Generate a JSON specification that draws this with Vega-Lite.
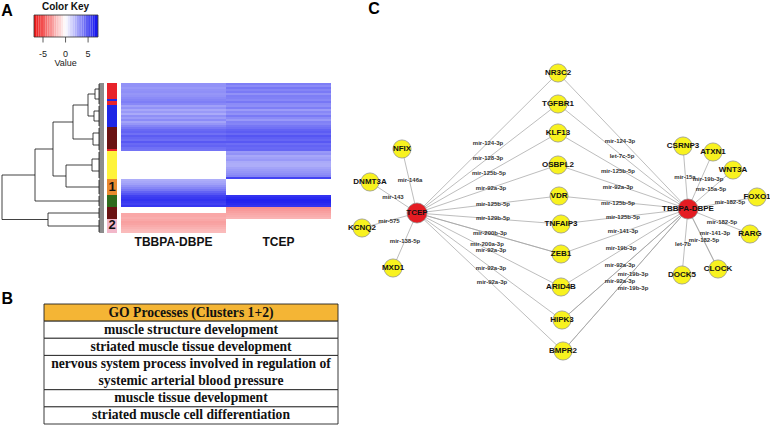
{
"$schema": "https://vega.github.io/schema/vega-lite/v6.json",
"autosize": {"type": "fit", "contains": "padding"},
"width": 770, "height": 425,
"padding": 0,
"background": "white",
"config": {"view": {"stroke": null}, "font": "Liberation Sans"},
"datasets": {
"rows": [
{"r0":0,"r1":1,"cluster":"red","TBBPA-DBPE":3.2,"TCEP":3.8,"lab":""},
{"r0":1,"r1":2,"cluster":"red","TBBPA-DBPE":3.2,"TCEP":3.4,"lab":""},
{"r0":2,"r1":3,"cluster":"red","TBBPA-DBPE":3.0,"TCEP":4.0,"lab":""},
{"r0":3,"r1":4,"cluster":"red","TBBPA-DBPE":3.2,"TCEP":3.6,"lab":""},
{"r0":4,"r1":5,"cluster":"red","TBBPA-DBPE":3.3,"TCEP":3.9,"lab":""},
{"r0":5,"r1":6,"cluster":"red","TBBPA-DBPE":3.1,"TCEP":3.2,"lab":""},
{"r0":6,"r1":7,"cluster":"red","TBBPA-DBPE":3.2,"TCEP":3.8,"lab":""},
{"r0":7,"r1":8,"cluster":"red","TBBPA-DBPE":3.4,"TCEP":3.7,"lab":""},
{"r0":8,"r1":9,"cluster":"blue","TBBPA-DBPE":3.6,"TCEP":3.5,"lab":""},
{"r0":9,"r1":10,"cluster":"red","TBBPA-DBPE":3.8,"TCEP":4.0,"lab":""},
{"r0":10,"r1":11,"cluster":"red","TBBPA-DBPE":3.5,"TCEP":3.4,"lab":""},
{"r0":11,"r1":12,"cluster":"blue","TBBPA-DBPE":2.8,"TCEP":3.3,"lab":""},
{"r0":12,"r1":13,"cluster":"blue","TBBPA-DBPE":3.2,"TCEP":3.8,"lab":""},
{"r0":13,"r1":14,"cluster":"blue","TBBPA-DBPE":2.6,"TCEP":2.9,"lab":""},
{"r0":14,"r1":15,"cluster":"blue","TBBPA-DBPE":3.0,"TCEP":3.5,"lab":""},
{"r0":15,"r1":16,"cluster":"blue","TBBPA-DBPE":2.5,"TCEP":3.2,"lab":""},
{"r0":16,"r1":17,"cluster":"blue","TBBPA-DBPE":3.3,"TCEP":3.9,"lab":""},
{"r0":17,"r1":18,"cluster":"blue","TBBPA-DBPE":2.9,"TCEP":3.4,"lab":""},
{"r0":18,"r1":19,"cluster":"blue","TBBPA-DBPE":3.4,"TCEP":3.0,"lab":""},
{"r0":19,"r1":20,"cluster":"blue","TBBPA-DBPE":2.7,"TCEP":3.7,"lab":""},
{"r0":20,"r1":21,"cluster":"blue","TBBPA-DBPE":3.1,"TCEP":3.6,"lab":""},
{"r0":21,"r1":22,"cluster":"blue","TBBPA-DBPE":3.6,"TCEP":4.0,"lab":""},
{"r0":22,"r1":23,"cluster":"maroon","TBBPA-DBPE":4.0,"TCEP":4.2,"lab":""},
{"r0":23,"r1":24,"cluster":"maroon","TBBPA-DBPE":4.4,"TCEP":4.6,"lab":""},
{"r0":24,"r1":25,"cluster":"maroon","TBBPA-DBPE":4.6,"TCEP":4.8,"lab":""},
{"r0":25,"r1":26,"cluster":"maroon","TBBPA-DBPE":4.2,"TCEP":4.4,"lab":""},
{"r0":26,"r1":27,"cluster":"maroon","TBBPA-DBPE":4.8,"TCEP":5.0,"lab":""},
{"r0":27,"r1":28,"cluster":"maroon","TBBPA-DBPE":4.5,"TCEP":4.7,"lab":""},
{"r0":28,"r1":29,"cluster":"maroon","TBBPA-DBPE":4.3,"TCEP":4.5,"lab":""},
{"r0":29,"r1":30,"cluster":"maroon","TBBPA-DBPE":4.9,"TCEP":4.9,"lab":""},
{"r0":30,"r1":31,"cluster":"maroon","TBBPA-DBPE":4.4,"TCEP":4.3,"lab":""},
{"r0":31,"r1":32,"cluster":"maroon","TBBPA-DBPE":4.6,"TCEP":4.6,"lab":""},
{"r0":32,"r1":33,"cluster":"maroon","TBBPA-DBPE":4.2,"TCEP":4.4,"lab":""},
{"r0":33,"r1":34,"cluster":"red","TBBPA-DBPE":4.1,"TCEP":4.5,"lab":""},
{"r0":34,"r1":35,"cluster":"yellow","TBBPA-DBPE":0,"TCEP":3.0,"lab":""},
{"r0":35,"r1":36,"cluster":"yellow","TBBPA-DBPE":0,"TCEP":3.2,"lab":""},
{"r0":36,"r1":37,"cluster":"yellow","TBBPA-DBPE":0,"TCEP":2.6,"lab":""},
{"r0":37,"r1":38,"cluster":"yellow","TBBPA-DBPE":0,"TCEP":2.8,"lab":""},
{"r0":38,"r1":39,"cluster":"yellow","TBBPA-DBPE":0,"TCEP":3.0,"lab":""},
{"r0":39,"r1":40,"cluster":"yellow","TBBPA-DBPE":0,"TCEP":2.5,"lab":""},
{"r0":40,"r1":41,"cluster":"yellow","TBBPA-DBPE":0,"TCEP":2.4,"lab":""},
{"r0":41,"r1":42,"cluster":"yellow","TBBPA-DBPE":0,"TCEP":2.4,"lab":""},
{"r0":42,"r1":43,"cluster":"yellow","TBBPA-DBPE":0,"TCEP":2.7,"lab":""},
{"r0":43,"r1":44,"cluster":"yellow","TBBPA-DBPE":0,"TCEP":2.9,"lab":""},
{"r0":44,"r1":45,"cluster":"yellow","TBBPA-DBPE":0,"TCEP":3.1,"lab":""},
{"r0":45,"r1":46,"cluster":"yellow","TBBPA-DBPE":0,"TCEP":3.3,"lab":""},
{"r0":46,"r1":47,"cluster":"yellow","TBBPA-DBPE":0,"TCEP":3.6,"lab":""},
{"r0":47,"r1":48,"cluster":"yellow","TBBPA-DBPE":0,"TCEP":5.5,"lab":""},
{"r0":48,"r1":49,"cluster":"orange","TBBPA-DBPE":2.4,"TCEP":0,"lab":""},
{"r0":49,"r1":50,"cluster":"orange","TBBPA-DBPE":2.6,"TCEP":0,"lab":""},
{"r0":50,"r1":51,"cluster":"orange","TBBPA-DBPE":2.8,"TCEP":0,"lab":""},
{"r0":51,"r1":52,"cluster":"orange","TBBPA-DBPE":3.2,"TCEP":0,"lab":"1"},
{"r0":52,"r1":53,"cluster":"orange","TBBPA-DBPE":3.6,"TCEP":0,"lab":""},
{"r0":53,"r1":54,"cluster":"orange","TBBPA-DBPE":4.0,"TCEP":0,"lab":""},
{"r0":54,"r1":55,"cluster":"orange","TBBPA-DBPE":4.6,"TCEP":0,"lab":""},
{"r0":55,"r1":56,"cluster":"orange","TBBPA-DBPE":5.0,"TCEP":0,"lab":""},
{"r0":56,"r1":57,"cluster":"green","TBBPA-DBPE":5.6,"TCEP":6.0,"lab":""},
{"r0":57,"r1":58,"cluster":"green","TBBPA-DBPE":5.8,"TCEP":6.3,"lab":""},
{"r0":58,"r1":59,"cluster":"green","TBBPA-DBPE":6.0,"TCEP":6.5,"lab":""},
{"r0":59,"r1":60,"cluster":"green","TBBPA-DBPE":5.8,"TCEP":6.4,"lab":""},
{"r0":60,"r1":61,"cluster":"green","TBBPA-DBPE":5.6,"TCEP":6.2,"lab":""},
{"r0":61,"r1":62,"cluster":"green","TBBPA-DBPE":5.9,"TCEP":6.0,"lab":""},
{"r0":62,"r1":63,"cluster":"maroon","TBBPA-DBPE":0,"TCEP":-3.2,"lab":""},
{"r0":63,"r1":64,"cluster":"maroon","TBBPA-DBPE":0,"TCEP":-3.0,"lab":""},
{"r0":64,"r1":65,"cluster":"maroon","TBBPA-DBPE":0,"TCEP":-2.8,"lab":""},
{"r0":65,"r1":66,"cluster":"maroon","TBBPA-DBPE":-2.6,"TCEP":-2.6,"lab":""},
{"r0":66,"r1":67,"cluster":"maroon","TBBPA-DBPE":-2.6,"TCEP":-2.4,"lab":""},
{"r0":67,"r1":68,"cluster":"maroon","TBBPA-DBPE":-2.4,"TCEP":-2.2,"lab":""},
{"r0":68,"r1":69,"cluster":"pink","TBBPA-DBPE":-2.6,"TCEP":0,"lab":""},
{"r0":69,"r1":70,"cluster":"pink","TBBPA-DBPE":-2.8,"TCEP":0,"lab":""},
{"r0":70,"r1":71,"cluster":"pink","TBBPA-DBPE":-2.7,"TCEP":0,"lab":"2"},
{"r0":71,"r1":72,"cluster":"pink","TBBPA-DBPE":-2.5,"TCEP":0,"lab":""},
{"r0":72,"r1":73,"cluster":"pink","TBBPA-DBPE":-2.3,"TCEP":0,"lab":""},
{"r0":73,"r1":74,"cluster":"pink","TBBPA-DBPE":-2.1,"TCEP":0,"lab":""},
{"r0":74,"r1":75,"cluster":"pink","TBBPA-DBPE":-2.0,"TCEP":0,"lab":""}
],
"keybins": [
{"lo":-7,"hi":-6.5,"mid":-6.75},{"lo":-6.5,"hi":-6,"mid":-6.25},{"lo":-6,"hi":-5.5,"mid":-5.75},{"lo":-5.5,"hi":-5,"mid":-5.25},
{"lo":-5,"hi":-4.5,"mid":-4.75},{"lo":-4.5,"hi":-4,"mid":-4.25},{"lo":-4,"hi":-3.5,"mid":-3.75},{"lo":-3.5,"hi":-3,"mid":-3.25},
{"lo":-3,"hi":-2.5,"mid":-2.75},{"lo":-2.5,"hi":-2,"mid":-2.25},{"lo":-2,"hi":-1.5,"mid":-1.75},{"lo":-1.5,"hi":-1,"mid":-1.25},
{"lo":-1,"hi":-0.5,"mid":-0.75},{"lo":-0.5,"hi":0,"mid":-0.25},{"lo":0,"hi":0.5,"mid":0.25},{"lo":0.5,"hi":1,"mid":0.75},
{"lo":1,"hi":1.5,"mid":1.25},{"lo":1.5,"hi":2,"mid":1.75},{"lo":2,"hi":2.5,"mid":2.25},{"lo":2.5,"hi":3,"mid":2.75},
{"lo":3,"hi":3.5,"mid":3.25},{"lo":3.5,"hi":4,"mid":3.75},{"lo":4,"hi":4.5,"mid":4.25},{"lo":4.5,"hi":5,"mid":4.75},
{"lo":5,"hi":5.5,"mid":5.25},{"lo":5.5,"hi":6,"mid":5.75},{"lo":6,"hi":6.5,"mid":6.25},{"lo":6.5,"hi":7,"mid":6.75},
{"lo":7,"hi":7.2,"mid":7.1}
],
"keyticks": [{"v":-5,"t":"-5"},{"v":0,"t":"0"},{"v":5,"t":"5"}],
"colnames": [{"col":0.5,"name":"TBBPA-DBPE"},{"col":1.5,"name":"TCEP"}],
"dendro": [
{"h1":5,"r1":0.5,"h2":5,"r2":10.5},
{"h1":5,"r1":11.5,"h2":5,"r2":21.5},
{"h1":5,"r1":22.5,"h2":5,"r2":33.5},
{"h1":5,"r1":34.5,"h2":5,"r2":47.5},
{"h1":5,"r1":48.5,"h2":5,"r2":55.5},
{"h1":5,"r1":56.5,"h2":5,"r2":61.5},
{"h1":5,"r1":62.5,"h2":5,"r2":67.5},
{"h1":5,"r1":68.5,"h2":5,"r2":74.5},
{"h1":5,"r1":3,"h2":9,"r2":3},
{"h1":5,"r1":8,"h2":9,"r2":8},
{"h1":9,"r1":3,"h2":9,"r2":8},
{"h1":5,"r1":14,"h2":10,"r2":14},
{"h1":5,"r1":19,"h2":10,"r2":19},
{"h1":10,"r1":14,"h2":10,"r2":19},
{"h1":5,"r1":25,"h2":11,"r2":25},
{"h1":5,"r1":31,"h2":11,"r2":31},
{"h1":11,"r1":25,"h2":11,"r2":31},
{"h1":5,"r1":38,"h2":12,"r2":38},
{"h1":5,"r1":44,"h2":12,"r2":44},
{"h1":12,"r1":38,"h2":12,"r2":44},
{"h1":9,"r1":5.5,"h2":16,"r2":5.5},
{"h1":10,"r1":16.5,"h2":16,"r2":16.5},
{"h1":16,"r1":5.5,"h2":16,"r2":16.5},
{"h1":16,"r1":11,"h2":31,"r2":11},
{"h1":11,"r1":28,"h2":31,"r2":28},
{"h1":31,"r1":11,"h2":31,"r2":28},
{"h1":12,"r1":41,"h2":38,"r2":41},
{"h1":5,"r1":52,"h2":38,"r2":52},
{"h1":38,"r1":41,"h2":38,"r2":52},
{"h1":31,"r1":19.5,"h2":51,"r2":19.5},
{"h1":38,"r1":46.5,"h2":51,"r2":46.5},
{"h1":51,"r1":19.5,"h2":51,"r2":46.5},
{"h1":51,"r1":33,"h2":69,"r2":33},
{"h1":5,"r1":59,"h2":69,"r2":59},
{"h1":69,"r1":33,"h2":69,"r2":59},
{"h1":5,"r1":65,"h2":56,"r2":65},
{"h1":5,"r1":71.5,"h2":56,"r2":71.5},
{"h1":56,"r1":65,"h2":56,"r2":71.5},
{"h1":69,"r1":46,"h2":102,"r2":46},
{"h1":56,"r1":68.25,"h2":102,"r2":68.25},
{"h1":102,"r1":46,"h2":102,"r2":68.25}
],
"cells": [
{"kind":"header","top":0,"bottom":1},
{"kind":"row","top":1,"bottom":2},
{"kind":"row","top":2,"bottom":3},
{"kind":"row","top":3,"bottom":5},
{"kind":"row","top":5,"bottom":6},
{"kind":"row","top":6,"bottom":7}
],
"lines": [
{"text":"GO Processes (Clusters 1+2)","center":0.5},
{"text":"muscle structure development","center":1.5},
{"text":"striated muscle tissue development","center":2.5},
{"text":"nervous system process involved in regulation of","center":3.5},
{"text":"systemic arterial blood pressure","center":4.5},
{"text":"muscle tissue development","center":5.5},
{"text":"striated muscle cell differentiation","center":6.5}
],
"nodes": [
{"id":"TCEP","type":"chemical","x":417,"y":212},
{"id":"TBBPA-DBPE","type":"chemical","x":688,"y":208},
{"id":"NFIX","type":"gene","x":402,"y":148},
{"id":"DNMT3A","type":"gene","x":370,"y":181},
{"id":"KCNQ2","type":"gene","x":362,"y":227},
{"id":"MXD1","type":"gene","x":393,"y":267},
{"id":"NR3C2","type":"gene","x":558,"y":72},
{"id":"TGFBR1","type":"gene","x":558,"y":103},
{"id":"KLF13","type":"gene","x":558,"y":132},
{"id":"OSBPL2","type":"gene","x":558,"y":164},
{"id":"VDR","type":"gene","x":559,"y":195},
{"id":"TNFAIP3","type":"gene","x":561,"y":223},
{"id":"ZEB1","type":"gene","x":561,"y":253},
{"id":"ARID4B","type":"gene","x":561,"y":286},
{"id":"HIPK3","type":"gene","x":562,"y":319},
{"id":"BMPR2","type":"gene","x":563,"y":350},
{"id":"CSRNP3","type":"gene","x":683,"y":145},
{"id":"ATXN1","type":"gene","x":713,"y":151},
{"id":"WNT3A","type":"gene","x":733,"y":169},
{"id":"FOXO1","type":"gene","x":757,"y":196},
{"id":"RARG","type":"gene","x":750,"y":233},
{"id":"CLOCK","type":"gene","x":718,"y":268},
{"id":"DOCK5","type":"gene","x":682,"y":274}
],
"edges": [
{"source":"TCEP","target":"NFIX","mir":"mir-146a","lx":410,"ly":179},
{"source":"TCEP","target":"DNMT3A","mir":"mir-143","lx":393,"ly":196},
{"source":"TCEP","target":"KCNQ2","mir":"mir-575","lx":389,"ly":220},
{"source":"TCEP","target":"MXD1","mir":"mir-138-5p","lx":405,"ly":240},
{"source":"TCEP","target":"NR3C2","mir":"mir-124-3p","lx":488,"ly":142},
{"source":"TCEP","target":"TGFBR1","mir":"mir-128-3p","lx":488,"ly":157},
{"source":"TCEP","target":"KLF13","mir":"mir-125b-5p","lx":489,"ly":172},
{"source":"TCEP","target":"OSBPL2","mir":"mir-92a-3p","lx":491,"ly":187},
{"source":"TCEP","target":"VDR","mir":"mir-125b-5p","lx":493,"ly":203},
{"source":"TCEP","target":"TNFAIP3","mir":"mir-129b-5p","lx":493,"ly":217},
{"source":"TCEP","target":"ZEB1","mir":"mir-200b-3p","lx":490,"ly":232},
{"source":"TCEP","target":"ZEB1","mir":"mir-200a-3p","lx":487,"ly":243},
{"source":"TCEP","target":"ARID4B","mir":"mir-92a-3p","lx":491,"ly":249},
{"source":"TCEP","target":"HIPK3","mir":"mir-92a-3p","lx":491,"ly":267},
{"source":"TCEP","target":"BMPR2","mir":"mir-92a-3p","lx":492,"ly":281},
{"source":"TBBPA-DBPE","target":"NR3C2","mir":"mir-124-3p","lx":620,"ly":140},
{"source":"TBBPA-DBPE","target":"TGFBR1","mir":"let-7c-5p","lx":622,"ly":155},
{"source":"TBBPA-DBPE","target":"KLF13","mir":"mir-125b-5p","lx":618,"ly":170},
{"source":"TBBPA-DBPE","target":"OSBPL2","mir":"mir-92a-3p","lx":618,"ly":186},
{"source":"TBBPA-DBPE","target":"VDR","mir":"mir-125b-5p","lx":618,"ly":202},
{"source":"TBBPA-DBPE","target":"TNFAIP3","mir":"mir-125b-5p","lx":623,"ly":216},
{"source":"TBBPA-DBPE","target":"ZEB1","mir":"mir-141-3p","lx":623,"ly":230},
{"source":"TBBPA-DBPE","target":"ARID4B","mir":"mir-19b-3p","lx":621,"ly":247},
{"source":"TBBPA-DBPE","target":"HIPK3","mir":"mir-92a-3p","lx":620,"ly":264},
{"source":"TBBPA-DBPE","target":"HIPK3","mir":"mir-19b-3p","lx":633,"ly":273},
{"source":"TBBPA-DBPE","target":"BMPR2","mir":"mir-92a-3p","lx":620,"ly":280},
{"source":"TBBPA-DBPE","target":"BMPR2","mir":"mir-19b-3p","lx":633,"ly":287},
{"source":"TBBPA-DBPE","target":"CSRNP3","mir":"mir-15a","lx":685,"ly":176},
{"source":"TBBPA-DBPE","target":"ATXN1","mir":"mir-19b-3p","lx":708,"ly":178},
{"source":"TBBPA-DBPE","target":"WNT3A","mir":"mir-15a-5p","lx":711,"ly":188},
{"source":"TBBPA-DBPE","target":"FOXO1","mir":"mir-182-5p","lx":730,"ly":201},
{"source":"TBBPA-DBPE","target":"RARG","mir":"mir-182-5p","lx":722,"ly":221},
{"source":"TBBPA-DBPE","target":"CLOCK","mir":"mir-141-3p","lx":715,"ly":232},
{"source":"TBBPA-DBPE","target":"CLOCK","mir":"mir-182-5p","lx":704,"ly":239},
{"source":"TBBPA-DBPE","target":"DOCK5","mir":"let-7b","lx":683,"ly":243}
],
"blank": [{"one":1}]
},
"layer": [
{"data": {"name": "keybins"}, "mark": {"type": "rect"},
"encoding": {
"x": {"field": "lo", "type": "quantitative", "scale": {"domain": [-7, 7.2], "range": [34, 98], "nice": false, "zero": false}, "axis": null},
"x2": {"field": "hi"},
"y": {"datum": 0, "type": "quantitative", "scale": {"domain": [0, 1], "range": [14, 36], "nice": false, "zero": false}, "axis": null},
"y2": {"datum": 1},
"color": {"field": "mid", "type": "quantitative", "scale": {"domain": [-7, 0, 7], "range": ["#ee1111", "#ffffff", "#1111ee"], "interpolate": "rgb"}, "legend": null}
}},
{"data": {"name": "blank"}, "mark": {"type": "rect", "fillOpacity": 0, "stroke": "#333", "strokeWidth": 0.8},
"encoding": {
"x": {"datum": -7, "type": "quantitative", "scale": {"domain": [-7, 7.2], "range": [34, 98], "nice": false, "zero": false}, "axis": null},
"x2": {"datum": 7.2},
"y": {"datum": 0, "type": "quantitative", "scale": {"domain": [0, 1], "range": [14, 36], "nice": false, "zero": false}, "axis": null},
"y2": {"datum": 1}
}},
{"data": {"name": "keyticks"}, "mark": {"type": "rule", "color": "#333", "strokeWidth": 0.8},
"encoding": {
"x": {"field": "v", "type": "quantitative", "scale": {"domain": [-7, 7.2], "range": [34, 98], "nice": false, "zero": false}, "axis": null},
"y": {"datum": 1, "type": "quantitative", "scale": {"domain": [0, 1], "range": [14, 36], "nice": false, "zero": false}, "axis": null},
"y2": {"datum": 1.25}
}},
{"data": {"name": "keyticks"}, "mark": {"type": "text", "fontSize": 9, "color": "#222"},
"encoding": {
"x": {"field": "v", "type": "quantitative", "scale": {"domain": [-7, 7.2], "range": [34, 98], "nice": false, "zero": false}, "axis": null},
"y": {"datum": 1.75, "type": "quantitative", "scale": {"domain": [0, 1], "range": [14, 36], "nice": false, "zero": false}, "axis": null},
"text": {"field": "t"}
}},
{"data": {"name": "blank"}, "mark": {"type": "text", "fontSize": 9, "color": "#222"},
"encoding": {
"x": {"datum": 0, "type": "quantitative", "scale": {"domain": [-7, 7.2], "range": [34, 98], "nice": false, "zero": false}, "axis": null},
"y": {"datum": 2.2, "type": "quantitative", "scale": {"domain": [0, 1], "range": [14, 36], "nice": false, "zero": false}, "axis": null},
"text": {"value": "Value"}
}},
{"data": {"name": "blank"}, "mark": {"type": "text", "fontSize": 10, "fontWeight": "bold", "color": "#111"},
"encoding": {
"x": {"datum": 0, "type": "quantitative", "scale": {"domain": [-7, 7.2], "range": [34, 98], "nice": false, "zero": false}, "axis": null},
"y": {"datum": -0.36, "type": "quantitative", "scale": {"domain": [0, 1], "range": [14, 36], "nice": false, "zero": false}, "axis": null},
"text": {"value": "Color Key"}
}},
{"data": {"name": "blank"}, "mark": {"type": "text", "fontSize": 16, "fontWeight": "bold", "color": "#000"},
"encoding": {
"x": {"datum": -13, "type": "quantitative", "scale": {"domain": [-7, 7.2], "range": [34, 98], "nice": false, "zero": false}, "axis": null},
"y": {"datum": -0.18, "type": "quantitative", "scale": {"domain": [0, 1], "range": [14, 36], "nice": false, "zero": false}, "axis": null},
"text": {"value": "A"}
}},
{"data": {"name": "dendro"}, "mark": {"type": "rule", "color": "#111", "strokeWidth": 0.8},
"encoding": {
"x": {"field": "h1", "type": "quantitative", "scale": {"domain": [0, 102], "range": [104, 2], "nice": false, "zero": false}, "axis": null},
"x2": {"field": "h2"},
"y": {"field": "r1", "type": "quantitative", "scale": {"domain": [0, 75], "range": [82, 232], "nice": false, "zero": false}, "axis": null},
"y2": {"field": "r2"}
}},
{"data": {"name": "rows"}, "mark": {"type": "rule", "color": "#000", "strokeWidth": 0.9},
"encoding": {
"x": {"datum": 0, "type": "quantitative", "scale": {"domain": [0, 102], "range": [104, 2], "nice": false, "zero": false}, "axis": null},
"x2": {"datum": 5},
"y": {"field": "r1", "type": "quantitative", "scale": {"domain": [0, 75], "range": [81, 231], "nice": false, "zero": false}, "axis": null}
}},
{"data": {"name": "rows"}, "mark": {"type": "rect"},
"encoding": {
"x": {"datum": 0, "type": "quantitative", "scale": {"domain": [0, 1], "range": [107, 117], "nice": false, "zero": false}, "axis": null},
"x2": {"datum": 1},
"y": {"field": "r0", "type": "quantitative", "scale": {"domain": [0, 75], "range": [82, 232], "nice": false, "zero": false}, "axis": null},
"y2": {"field": "r1"},
"fill": {"field": "cluster", "type": "nominal", "scale": {"domain": ["red", "blue", "maroon", "yellow", "orange", "green", "pink"], "range": ["#e8232b", "#1e26e6", "#6a1212", "#fff33a", "#e98a2f", "#2f6a1c", "#f2b7c9"]}, "legend": null}
}},
{"data": {"name": "rows"}, "transform": [{"filter": "datum.lab != ''"}],
"mark": {"type": "text", "fontSize": 13, "fontWeight": "bold", "color": "#111"},
"encoding": {
"x": {"datum": 0.5, "type": "quantitative", "scale": {"domain": [0, 1], "range": [107, 117], "nice": false, "zero": false}, "axis": null},
"y": {"field": "r1", "type": "quantitative", "scale": {"domain": [0, 75], "range": [82, 232], "nice": false, "zero": false}, "axis": null},
"text": {"field": "lab"}
}},
{"data": {"name": "rows"}, "mark": {"type": "rect"},
"encoding": {
"x": {"datum": 0, "type": "quantitative", "scale": {"domain": [0, 2], "range": [121, 331], "nice": false, "zero": false}, "axis": null},
"x2": {"datum": 1},
"y": {"field": "r0", "type": "quantitative", "scale": {"domain": [0, 75], "range": [82, 232], "nice": false, "zero": false}, "axis": null},
"y2": {"field": "r1"},
"color": {"field": "TBBPA-DBPE", "type": "quantitative", "scale": {"domain": [-7, 0, 7], "range": ["#ee1111", "#ffffff", "#1111ee"], "interpolate": "rgb"}, "legend": null}
}},
{"data": {"name": "rows"}, "mark": {"type": "rect"},
"encoding": {
"x": {"datum": 1, "type": "quantitative", "scale": {"domain": [0, 2], "range": [121, 331], "nice": false, "zero": false}, "axis": null},
"x2": {"datum": 2},
"y": {"field": "r0", "type": "quantitative", "scale": {"domain": [0, 75], "range": [82, 232], "nice": false, "zero": false}, "axis": null},
"y2": {"field": "r1"},
"color": {"field": "TCEP", "type": "quantitative", "scale": {"domain": [-7, 0, 7], "range": ["#ee1111", "#ffffff", "#1111ee"], "interpolate": "rgb"}, "legend": null}
}},
{"data": {"name": "colnames"}, "mark": {"type": "text", "fontSize": 12, "fontWeight": "bold", "color": "#111"},
"encoding": {
"x": {"field": "col", "type": "quantitative", "scale": {"domain": [0, 2], "range": [121, 331], "nice": false, "zero": false}, "axis": null},
"y": {"datum": 79.5, "type": "quantitative", "scale": {"domain": [0, 75], "range": [82, 232], "nice": false, "zero": false}, "axis": null},
"text": {"field": "name"}
}},
{"data": {"name": "cells"}, "mark": {"type": "rect", "stroke": "#222", "strokeWidth": 0.9},
"encoding": {
"x": {"datum": 0, "type": "quantitative", "scale": {"domain": [0, 1], "range": [44, 338], "nice": false, "zero": false}, "axis": null},
"x2": {"datum": 1},
"y": {"field": "top", "type": "quantitative", "scale": {"domain": [0, 7], "range": [303, 423], "nice": false, "zero": false}, "axis": null},
"y2": {"field": "bottom"},
"fill": {"field": "kind", "type": "nominal", "scale": {"domain": ["header", "row"], "range": ["#f4b535", "#ffffff"]}, "legend": null}
}},
{"data": {"name": "lines"}, "mark": {"type": "text", "font": "Liberation Serif", "fontWeight": "bold", "fontSize": 13.6, "color": "#111"},
"encoding": {
"x": {"datum": 0.5, "type": "quantitative", "scale": {"domain": [0, 1], "range": [44, 338], "nice": false, "zero": false}, "axis": null},
"y": {"field": "center", "type": "quantitative", "scale": {"domain": [0, 7], "range": [303, 423], "nice": false, "zero": false}, "axis": null},
"text": {"field": "text"}
}},
{"data": {"name": "blank"}, "mark": {"type": "text", "fontSize": 16, "fontWeight": "bold", "color": "#000"},
"encoding": {
"x": {"datum": -0.125, "type": "quantitative", "scale": {"domain": [0, 1], "range": [44, 338], "nice": false, "zero": false}, "axis": null},
"y": {"datum": -0.3, "type": "quantitative", "scale": {"domain": [0, 7], "range": [303, 423], "nice": false, "zero": false}, "axis": null},
"text": {"value": "B"}
}},
{"data": {"name": "edges"},
"transform": [
{"lookup": "source", "from": {"data": {"name": "nodes"}, "key": "id", "fields": ["x", "y"]}, "as": ["sx", "sy"]},
{"lookup": "target", "from": {"data": {"name": "nodes"}, "key": "id", "fields": ["x", "y"]}, "as": ["tx", "ty"]}
],
"mark": {"type": "rule", "color": "#a0a0a0", "strokeWidth": 0.7},
"encoding": {
"x": {"field": "sx", "type": "quantitative", "scale": {"domain": [0, 770], "range": [0, 770], "nice": false, "zero": false}, "axis": null},
"x2": {"field": "tx"},
"y": {"field": "sy", "type": "quantitative", "scale": {"domain": [0, 425], "range": [0, 425], "nice": false, "zero": false}, "axis": null},
"y2": {"field": "ty"}
}},
{"data": {"name": "edges"}, "mark": {"type": "text", "fontSize": 6, "fontWeight": "bold", "color": "#333"},
"encoding": {
"x": {"field": "lx", "type": "quantitative", "scale": {"domain": [0, 770], "range": [0, 770], "nice": false, "zero": false}, "axis": null},
"y": {"field": "ly", "type": "quantitative", "scale": {"domain": [0, 425], "range": [0, 425], "nice": false, "zero": false}, "axis": null},
"text": {"field": "mir"}
}},
{"data": {"name": "nodes"}, "mark": {"type": "circle", "opacity": 1, "stroke": "#8a8a8a", "strokeWidth": 0.7},
"encoding": {
"x": {"field": "x", "type": "quantitative", "scale": {"domain": [0, 770], "range": [0, 770], "nice": false, "zero": false}, "axis": null},
"y": {"field": "y", "type": "quantitative", "scale": {"domain": [0, 425], "range": [0, 425], "nice": false, "zero": false}, "axis": null},
"fill": {"field": "type", "type": "nominal", "scale": {"domain": ["chemical", "gene"], "range": ["#e41c23", "#f8f21f"]}, "legend": null},
"size": {"field": "type", "type": "nominal", "scale": {"domain": ["chemical", "gene"], "range": [400, 330]}, "legend": null}
}},
{"data": {"name": "nodes"}, "mark": {"type": "text", "fontSize": 8, "fontWeight": "bold", "color": "#111"},
"encoding": {
"x": {"field": "x", "type": "quantitative", "scale": {"domain": [0, 770], "range": [0, 770], "nice": false, "zero": false}, "axis": null},
"y": {"field": "y", "type": "quantitative", "scale": {"domain": [0, 425], "range": [0, 425], "nice": false, "zero": false}, "axis": null},
"text": {"field": "id"}
}},
{"data": {"name": "blank"}, "mark": {"type": "text", "fontSize": 16, "fontWeight": "bold", "color": "#000"},
"encoding": {
"x": {"datum": 374, "type": "quantitative", "scale": {"domain": [0, 770], "range": [0, 770], "nice": false, "zero": false}, "axis": null},
"y": {"datum": 8, "type": "quantitative", "scale": {"domain": [0, 425], "range": [0, 425], "nice": false, "zero": false}, "axis": null},
"text": {"value": "C"}
}}
],
"resolve": {"scale": {"x": "independent", "y": "independent", "color": "independent", "fill": "independent", "size": "independent"}}
}
